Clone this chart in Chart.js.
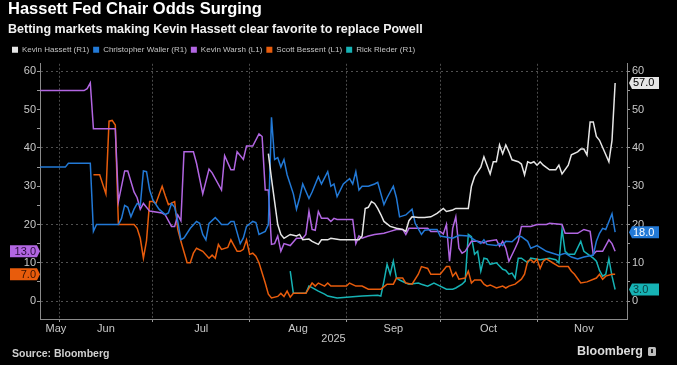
<!DOCTYPE html>
<html>
<head>
<meta charset="utf-8">
<title>Hassett Fed Chair Odds Surging</title>
<script src="https://cdn.jsdelivr.net/npm/chart.js@4.4.1/dist/chart.umd.min.js"></script>
<style>
  html, body { margin: 0; padding: 0; background: #000; }
  canvas { display: block; }
</style>
</head>
<body>
<canvas id="oddsChart" width="677" height="365"></canvas>
<script>
// odds in %, dates are 2025 (MM-DD)
const hassettDates = ["08-07","08-08","08-10","08-11","08-12","08-14","08-16","08-17","08-18","08-20","08-21","08-23","08-24","08-26","08-27","08-30","09-03","09-05","09-06","09-07","09-08","09-09","09-10","09-11","09-12","09-13","09-15","09-17","09-19","09-20","09-21","09-22","09-24","09-26","09-28","09-30","10-02","10-03","10-05","10-06","10-10","10-11","10-12","10-14","10-15","10-17","10-18","10-19","10-20","10-21","10-22","10-23","10-24","10-26","10-27","10-28","10-29","10-30","10-31","11-01","11-02","11-03","11-05","11-07","11-08","11-09","11-11","11-12","11-14","11-15","11-16","11-17","11-18","11-19","11-20","11-21","11-24","11-25","11-26"];
const hassettOdds = [38.5,32,20,17.4,16.4,17.4,17,17.4,16,16.2,15.6,14.8,16,16,16.4,16,16,16,17,24.2,24.5,26,25.5,24.2,22.6,20.8,19.5,19,18.7,18.2,21,22,21.8,21.8,22,22.9,24.2,23.4,23.8,24.2,24.2,30,32.5,35,37.7,33.2,36.4,36.4,40.8,38.5,40.8,39,36.9,36.4,35.8,33,36.4,36,36.4,35.5,36.4,35.5,34.3,34.3,35.5,33.2,35.5,38.2,39,39.7,39.7,38.2,46.8,46.8,43,42,36.4,42,57];

const wallerDates = ["05-26","06-03","06-04","06-11","06-12","06-13","06-20","06-21","06-22","06-23","06-24","06-25","06-26","06-27","06-28","06-29","06-30","07-01","07-03","07-05","07-06","07-07","07-08","07-09","07-10","07-11","07-13","07-15","07-16","07-17","07-18","07-19","07-21","07-22","07-23","07-25","07-26","07-27","07-29","07-30","07-31","08-02","08-03","08-04","08-06","08-07","08-08","08-09","08-10","08-11","08-12","08-13","08-15","08-16","08-17","08-18","08-20","08-21","08-23","08-24","08-26","08-27","08-28","08-29","08-31","09-02","09-03","09-04","09-05","09-06","09-08","09-10","09-11","09-13","09-14","09-16","09-17","09-18","09-20","09-22","09-23","09-25","09-26","09-28","09-30","10-01","10-05","10-07","10-10","10-12","10-14","10-15","10-16","10-19","10-20","10-21","10-22","10-24","10-26","10-27","10-29","10-30","11-01","11-03","11-04","11-06","11-08","11-10","11-12","11-14","11-16","11-19","11-20","11-21","11-22","11-23","11-25","11-26"];
const wallerOdds = [35,35,36,36,18.2,20,20,21.6,25,24.5,22,24,25.5,25,34,33.8,29,26.5,24,22.6,23,25.5,24.5,20.8,16,16.5,19,20.8,20.3,17.4,16,20.3,21.8,21,20,20,20.8,20.8,15,16.5,19.5,20.8,20.5,17.4,18.2,20,48,37,37.5,35,37,33,28,24,27,30.6,26.8,28.5,32.5,30.6,33.8,30,30.6,27.3,30.6,32,30.6,33.8,29,30,30,30.6,31,25.2,27,30,27,22,22.5,24,20.3,17.4,18.5,18.7,18.7,17,16.4,17.2,17,16,15,16,14.8,14.5,15,14.5,15.6,15.5,17,16.8,15.6,13.8,14.5,13.5,13,12.5,12,12.5,11.5,11,11.5,12,15.6,17.7,19,18.7,22.8,18];

const warshDates = ["05-26","06-09","06-10","06-11","06-12","06-19","06-20","06-22","06-23","06-25","06-26","06-27","06-28","06-30","07-04","07-05","07-07","07-08","07-09","07-10","07-11","07-14","07-15","07-17","07-19","07-20","07-23","07-24","07-26","07-27","07-28","07-30","07-31","08-02","08-04","08-05","08-06","08-07","08-08","08-09","08-10","08-11","08-12","08-14","08-16","08-18","08-19","08-20","08-21","08-22","08-23","08-24","08-26","08-27","08-28","08-29","09-03","09-04","09-05","09-06","09-08","09-10","09-13","09-15","09-17","09-19","09-20","09-21","09-27","09-28","10-01","10-02","10-03","10-04","10-05","10-06","10-07","10-08","10-09","10-11","10-13","10-15","10-16","10-19","10-20","10-21","10-22","10-23","10-25","10-26","10-27","10-30","11-01","11-04","11-05","11-09","11-10","11-14","11-16","11-18","11-19","11-20","11-22","11-24","11-25","11-26"];
const warshOdds = [55,55,55.5,57,45,45,26,34,34,28.5,27,24,25.5,23.5,23,22.5,19.5,19.5,22.5,21,39,39,36,28,34.5,33.5,29,38,34.3,34.3,39,37,40.5,40.5,43.7,43,29,29,14.8,15,17,13,15,14.5,16.4,16.4,17.4,23.4,18.7,18.5,23.4,21.6,21.6,20.8,21.6,21.3,21.3,15,17,16.4,17,17.4,17.7,18.2,18.7,18.7,17.4,19,19,18.2,18.2,17.5,20,10.4,19,22,13.8,12.5,13,15.6,15.6,15.2,15.6,16,14.3,15.6,13.8,10.4,13.8,15.6,19.5,19.5,20,20,20.3,20,17.7,17.7,18.7,18.2,12.2,13,13,16,15,13];

const bessentDates = ["06-12","06-14","06-16","06-17","06-18","06-19","06-20","06-25","06-26","06-27","06-28","06-29","06-30","07-01","07-02","07-04","07-05","07-06","07-08","07-09","07-10","07-12","07-13","07-14","07-15","07-17","07-19","07-20","07-21","07-22","07-23","07-25","07-26","07-27","07-28","07-29","07-30","07-31","08-01","08-02","08-03","08-04","08-06","08-07","08-08","08-10","08-11","08-12","08-13","08-14","08-15","08-19","08-21","08-22","08-23","08-25","08-26","08-27","09-01","09-02","09-04","09-06","09-08","09-12","09-14","09-16","09-17","09-19","09-20","09-22","09-24","09-25","09-27","09-28","10-01","10-03","10-04","10-05","10-06","10-07","10-09","10-10","10-11","10-12","10-14","10-15","10-16","10-17","10-19","10-21","10-22","10-23","10-25","10-27","10-28","10-29","10-30","10-31","11-01","11-02","11-03","11-04","11-06","11-08","11-11","11-12","11-13","11-15","11-17","11-20","11-21","11-22","11-23","11-25","11-26"];
const bessentOdds = [33,33,28,47,47.2,46,20,20,19,16.4,11.2,15.8,26,26,25.5,30,27.5,25.2,26,18.7,15.6,10,10,12.5,13.8,13,11.2,12,11.2,14.8,13.5,14,16,14.5,13,13,13.5,16,12.2,12.5,11.7,10,4.7,1.8,0.8,1.2,2,1.2,2.6,1,2,2,4.7,3.9,4.7,3.9,4.7,3.9,3.9,4.7,3.9,3.9,3.1,3.1,4.4,4.4,6,6,4.7,4.4,7,9,8.5,7,7,9,9,6.5,7.5,5.7,6,7.8,4.7,5.5,5.5,4.4,3.9,4.2,3.4,3.9,3.4,3.9,4.4,5.7,7,10.4,10.8,10,11,8.5,10.4,11,10,9,9,7.8,7,4.7,5,6,7,5.7,6.5,7,7];

const riederDates = ["08-14","08-15","08-19","08-20","08-21","08-23","08-25","08-26","08-29","09-06","09-11","09-12","09-13","09-14","09-15","09-16","09-17","09-18","09-20","09-21","09-24","09-25","09-27","09-29","10-01","10-03","10-05","10-06","10-08","10-09","10-10","10-11","10-12","10-13","10-14","10-15","10-16","10-17","10-19","10-21","10-22","10-23","10-24","10-25","10-26","10-27","10-29","10-30","11-02","11-05","11-07","11-08","11-09","11-10","11-11","11-13","11-15","11-16","11-19","11-20","11-21","11-22","11-23","11-24","11-25","11-26"];
const riederOdds = [7.8,2,2,3.9,3.5,2.6,1.8,1.3,0.8,1.3,1.5,1.3,5.2,9.6,7,10.4,6,5.5,4.7,4.4,4.7,4.4,3.9,4.7,3.9,3.1,3.1,3.4,4.4,5.2,17.4,16.8,12.2,13,7.8,11.2,11,9.6,10,8.3,8,7,7.3,6,11.2,11.2,10,11.2,10.8,11.2,10.8,10,18.7,13,12.2,12.2,15.6,13,11.2,10.4,8,6.5,7,11,6.5,3];

const seriesNames = ["Kevin Hassett (R1)", "Christopher Waller (R1)", "Kevin Warsh (L1)", "Scott Bessent (L1)", "Rick Rieder (R1)"];
const seriesColors = ["#e6e6e6", "#2279d6", "#b266e2", "#e85c0c", "#16b2b4"];
const tagTextColors = ["#000000", "#ffffff", "#2a0d3d", "#3a1200", "#0b3d3e"];

const monthNames = ["May", "Jun", "Jul", "Aug", "Sep", "Oct", "Nov"];
const monthStarts = ["05-01", "06-01", "07-01", "08-01", "09-01", "10-01", "11-01", "12-01"];
const yTicks = [0, 5, 10, 15, 20, 25, 30, 35, 40, 45, 50, 55, 60];
const yGridValues = [0, 10, 20, 40, 60];

const JUN1 = Date.UTC(2025, 5, 1);
const X_MIN = -6.1;   // just before 26 May
const X_MAX = 181.8;  // end of November

function dayNum(md) {
  const [m, d] = md.split("-").map(Number);
  return (Date.UTC(2025, m - 1, d) - JUN1) / 86400000;
}

function toPoints(dates, vals) {
  return dates.map((d, i) => ({ x: dayNum(d), y: vals[i] }));
}

// month boundaries get a grid line, month names sit in the middle of each month
const boundaryDays = monthStarts.map(dayNum).filter(d => d > X_MIN && d < X_MAX);
const monthLabelTicks = [];
monthNames.forEach((name, i) => {
  const start = dayNum(monthStarts[i]);
  const end = dayNum(monthStarts[i + 1]);
  let mid = (start + end) / 2;
  if (start < X_MIN) mid = end - 1;   // partial first month: keep label next to the boundary
  monthLabelTicks.push({ value: mid, label: name });
});

const allSeries = [
  toPoints(hassettDates, hassettOdds),
  toPoints(wallerDates, wallerOdds),
  toPoints(warshDates, warshOdds),
  toPoints(bessentDates, bessentOdds),
  toPoints(riederDates, riederOdds)
];

const FONT = "'Liberation Sans', Arial, sans-serif";
Chart.defaults.font.family = FONT;
Chart.defaults.color = "#c8c8c8";

const datasets = allSeries.map((pts, i) => ({
  label: seriesNames[i],
  data: pts,
  yAxisID: seriesNames[i].includes("(L1)") ? "y" : "y1",
  borderColor: seriesColors[i],
  backgroundColor: seriesColors[i],
  borderWidth: 1.5,
  pointRadius: 0,
  tension: 0
}));

function gridIf(test, color) {
  return ctx => (ctx.tick && test(ctx.tick.value)) ? color : "rgba(0,0,0,0)";
}

const blackBg = {
  id: "blackBg",
  beforeDraw(chart) {
    const c = chart.ctx;
    c.save();
    c.fillStyle = "#000";
    c.fillRect(0, 0, chart.width, chart.height);
    c.restore();
  }
};

// value tags at both ends of the plot
const lastValueTags = {
  id: "lastValueTags",
  afterDraw(chart) {
    const c = chart.ctx;
    const area = chart.chartArea;
    chart.data.datasets.forEach((ds, i) => {
      const meta = chart.getDatasetMeta(i);
      const last = ds.data[ds.data.length - 1];
      const y = chart.scales[meta.yAxisID].getPixelForValue(last.y);
      const h = 12, w = 27, tip = 3;
      const left = ds.yAxisID === "y";
      c.save();
      c.fillStyle = seriesColors[i];
      c.beginPath();
      if (left) {
        const x1 = area.left;
        c.moveTo(x1, y);
        c.lineTo(x1 - tip, y - h / 2);
        c.lineTo(x1 - tip - w, y - h / 2);
        c.lineTo(x1 - tip - w, y + h / 2);
        c.lineTo(x1 - tip, y + h / 2);
      } else {
        const x1 = area.right + 2;
        c.moveTo(x1, y);
        c.lineTo(x1 + tip, y - h / 2);
        c.lineTo(x1 + tip + w, y - h / 2);
        c.lineTo(x1 + tip + w, y + h / 2);
        c.lineTo(x1 + tip, y + h / 2);
      }
      c.closePath();
      c.fill();
      c.fillStyle = tagTextColors[i];
      c.font = "11px " + FONT;
      c.textBaseline = "middle";
      if (left) {
        c.textAlign = "right";
        c.fillText(last.y.toFixed(1), area.left - 4, y + 0.5);
      } else {
        c.textAlign = "left";
        c.fillText(last.y.toFixed(1), area.right + 6, y + 0.5);
      }
      c.restore();
    });
  }
};

const footer = {
  id: "footer",
  afterDraw(chart) {
    const c = chart.ctx;
    c.save();
    c.textBaseline = "middle";
    c.fillStyle = "#d0d0d0";
    c.font = "bold 10.5px " + FONT;
    c.textAlign = "left";
    c.fillText("Source: Bloomberg", 12, 354);
    c.font = "bold 12.5px " + FONT;
    c.fillStyle = "#dcdcdc";
    c.textAlign = "right";
    c.fillText("Bloomberg", 643, 352);
    // little logo badge
    c.fillStyle = "#bdbdbd";
    c.beginPath();
    c.roundRect(648, 347, 8, 9, 1.5);
    c.fill();
    c.fillStyle = "#222";
    c.fillRect(651, 349, 2, 4);
    c.restore();
  }
};

new Chart(document.getElementById("oddsChart"), {
  type: "line",
  data: { datasets },
  plugins: [blackBg, lastValueTags, footer],
  options: {
    responsive: false,
    animation: false,
    devicePixelRatio: 1,
    layout: { padding: { left: 8, right: 0, top: 0, bottom: 16 } },
    plugins: {
      title: {
        display: true,
        text: "Hassett Fed Chair Odds Surging",
        align: "start",
        color: "#ffffff",
        font: { size: 16.5, weight: "bold" },
        padding: { top: 0, bottom: 0 }
      },
      subtitle: {
        display: true,
        text: "Betting markets making Kevin Hassett clear favorite to replace Powell",
        align: "start",
        color: "#f0f0f0",
        font: { size: 12.5, weight: "bold" },
        padding: { top: 2, bottom: 5 }
      },
      legend: {
        display: true,
        position: "top",
        align: "start",
        labels: {
          color: "#c4c4c4",
          font: { size: 8 },
          boxWidth: 6,
          boxHeight: 6,
          padding: 4,
          generateLabels(chart) {
            return Chart.defaults.plugins.legend.labels.generateLabels(chart).map(l => ({ ...l, lineWidth: 0 }));
          }
        }
      },
      tooltip: { enabled: false }
    },
    scales: {
      x: {
        type: "linear",
        min: X_MIN,
        max: X_MAX,
        afterBuildTicks(scale) {
          const ticks = boundaryDays.map(v => ({ value: v })).concat(monthLabelTicks.map(t => ({ value: t.value })));
          ticks.sort((a, b) => a.value - b.value);
          scale.ticks = ticks;
        },
        afterFit(scale) { scale.height = 30; },
        ticks: {
          autoSkip: false,
          maxRotation: 0,
          padding: 0,
          color: "#c8c8c8",
          font: { size: 11 },
          callback(value) {
            const t = monthLabelTicks.find(m => m.value === value);
            return t ? t.label : "";
          }
        },
        grid: {
          color: gridIf(v => boundaryDays.includes(v), "#4a4a4a"),
          tickColor: gridIf(v => boundaryDays.includes(v), "#9a9a9a"),
          tickLength: 3
        },
        border: { color: "#8a8a8a", width: 1, dash: [2, 2] },
        title: {
          display: true,
          text: "2025",
          color: "#c8c8c8",
          font: { size: 11 },
          padding: { top: 0, bottom: 3 }
        }
      },
      y: {
        position: "left",
        min: -4.7,
        max: 62,
        afterBuildTicks(scale) { scale.ticks = yTicks.map(v => ({ value: v })); },
        afterFit(scale) { scale.width = 32; },
        ticks: {
          padding: 1,
          color: "#c8c8c8",
          font: { size: 11 },
          callback: v => (v % 10 === 0 ? v : "")
        },
        grid: {
          color: gridIf(v => yGridValues.includes(v), "#505050"),
          tickColor: "#9a9a9a",
          tickLength: 3
        },
        border: { color: "#8a8a8a", width: 1, dash: [2, 3] }
      },
      y1: {
        position: "right",
        min: -4.7,
        max: 62,
        afterBuildTicks(scale) { scale.ticks = yTicks.map(v => ({ value: v })); },
        afterFit(scale) { scale.width = 50; },
        ticks: {
          padding: 2,
          color: "#c8c8c8",
          font: { size: 11 },
          callback: v => (v % 10 === 0 ? v : "")
        },
        grid: {
          drawOnChartArea: false,
          tickColor: "#9a9a9a",
          tickLength: 3
        },
        border: { color: "#8a8a8a", width: 1 }
      }
    }
  }
});
</script>
</body>
</html>
